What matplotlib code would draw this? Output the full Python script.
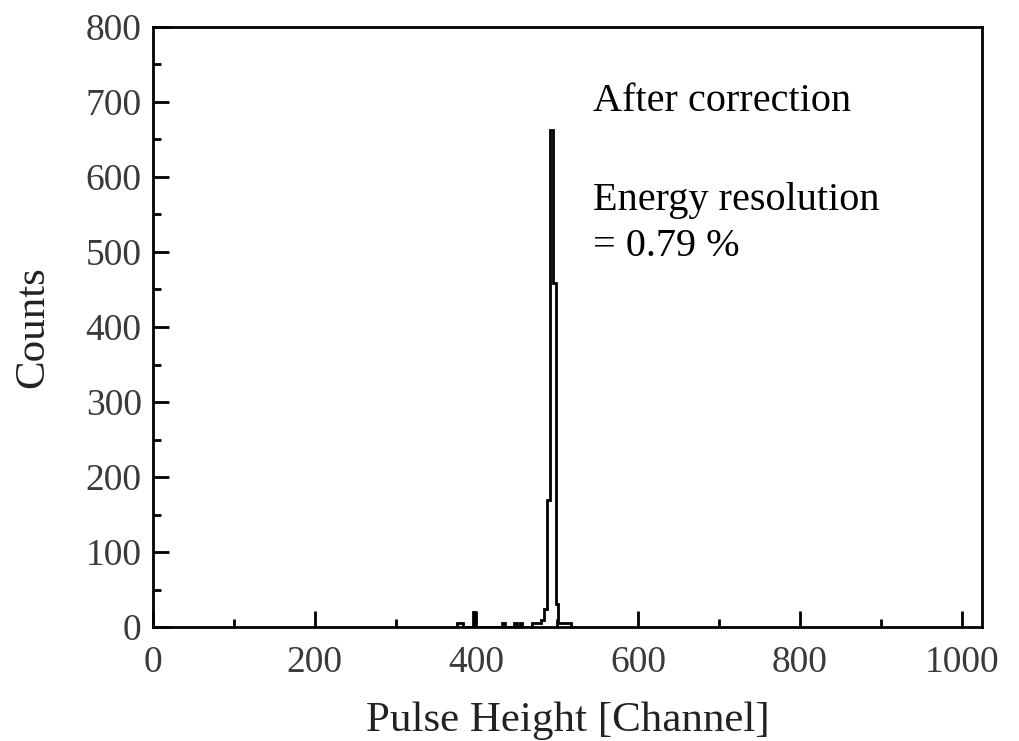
import numpy as np
import matplotlib.pyplot as plt
from matplotlib.ticker import MultipleLocator

# bin edges [channel] and counts of the corrected spectrum
edges = [376.6, 383.0, 395.5, 398.4, 432.0, 435.0, 446.8, 450.0, 454.0, 457.0,
         469.0, 480.4, 483.7, 487.8, 491.5, 494.8, 498.0, 501.3, 516.5]
counts = [5, 0, 20, 0, 5, 0, 5, 0, 5, 0,
          5, 10, 24, 169, 663, 459, 31, 5]

plt.rcParams['font.family'] = ['Liberation Serif', 'DejaVu Serif']

fig = plt.figure(figsize=(10.19, 7.41), dpi=100)
ax = fig.add_axes([0.150, 0.1538, 0.8136, 0.8098])

ax.stairs(counts, edges, color='k', linewidth=2.0, baseline=0)

ax.set_xlim(0, 1025)
ax.set_ylim(0, 800)
ax.xaxis.set_major_locator(MultipleLocator(200))
ax.xaxis.set_minor_locator(MultipleLocator(100))
ax.yaxis.set_major_locator(MultipleLocator(100))
ax.yaxis.set_minor_locator(MultipleLocator(50))
ax.tick_params(which='both', direction='in', top=False, right=False,
               width=2, colors='k', labelcolor='#3a3a3a', labelsize=27)
ax.tick_params(which='major', length=11.5, pad=8)
ax.tick_params(axis='x', which='major', pad=13)
ax.tick_params(which='minor', length=5.5)
for sp in ax.spines.values():
    sp.set_linewidth(2.0)

ax.set_xlabel('Pulse Height [Channel]', fontsize=31, color='#222222', labelpad=16)
ax.set_ylabel('Counts', fontsize=31, color='#222222', labelpad=24)

ax.text(544, 700, 'After correction', fontsize=29, va='center')
ax.text(544, 538, 'Energy resolution\n= 0.79 %', fontsize=29, va='center',
        linespacing=1.3)

fig.savefig('out.png', dpi=100)
